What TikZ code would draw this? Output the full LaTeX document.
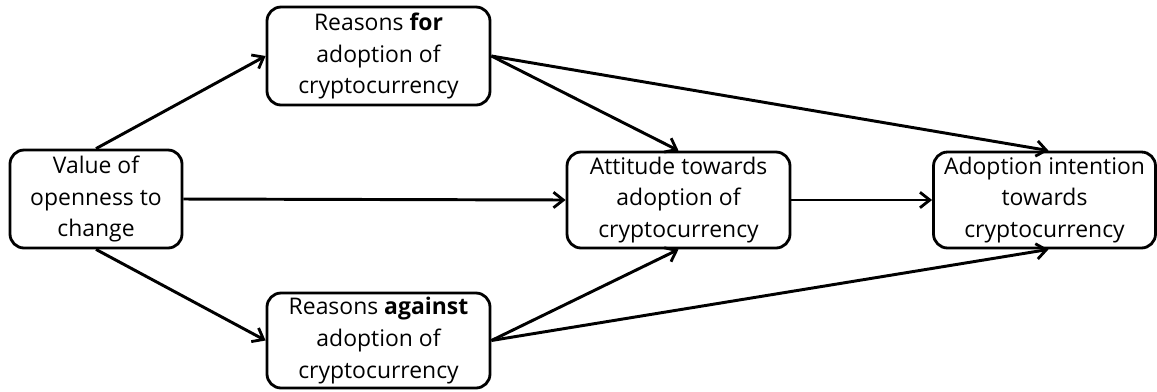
\documentclass[tikz,border=0pt]{standalone}
\usepackage{fontspec}
\setmainfont{Open Sans}
\usetikzlibrary{arrows.meta}
\begin{document}
\begin{tikzpicture}[x=0.025cm,y=-0.025cm,
  box/.style={draw=black,line width=2pt,rounded corners=10pt,align=center,
    font=\fontsize{16.3}{22.7}\selectfont,inner sep=0pt},
  conn/.style={line width=2.1pt,-{Straight Barb[length=7pt,width=11pt,line width=2pt]}}]
\useasboundingbox (0,0) rectangle (1157,391);
\node[box,minimum width=172*0.025cm,minimum height=98*0.025cm] (v) at (96,199) {Value of\\openness to\\change};
\node[box,minimum width=223*0.025cm,minimum height=98*0.025cm] (rf) at (378.5,56) {Reasons \textbf{for}\\adoption of\\cryptocurrency};
\node[box,minimum width=223*0.025cm,minimum height=96*0.025cm] (att) at (678.5,200) {Attitude towards\\adoption of\\cryptocurrency};
\node[box,minimum width=222*0.025cm,minimum height=96*0.025cm] (ad) at (1044.5,200) {Adoption intention\\towards\\cryptocurrency};
\node[box,minimum width=223*0.025cm,minimum height=95*0.025cm] (ra) at (378.5,340.5) {Reasons \textbf{against}\\adoption of\\cryptocurrency};
\draw[conn] (v.north) -- (rf.west);
\draw[conn] (v.east) -- (att.west);
\draw[conn] (v.south) -- (ra.west);
\draw[conn] (rf.east) -- (att.north);
\draw[conn] (rf.east) -- ([xshift=4*0.025cm]ad.north);
\draw[conn] (att.east) -- (ad.west);
\draw[conn] (ra.east) -- (att.south);
\draw[conn] (ra.east) -- ([xshift=4*0.025cm]ad.south);
\end{tikzpicture}
\end{document}
